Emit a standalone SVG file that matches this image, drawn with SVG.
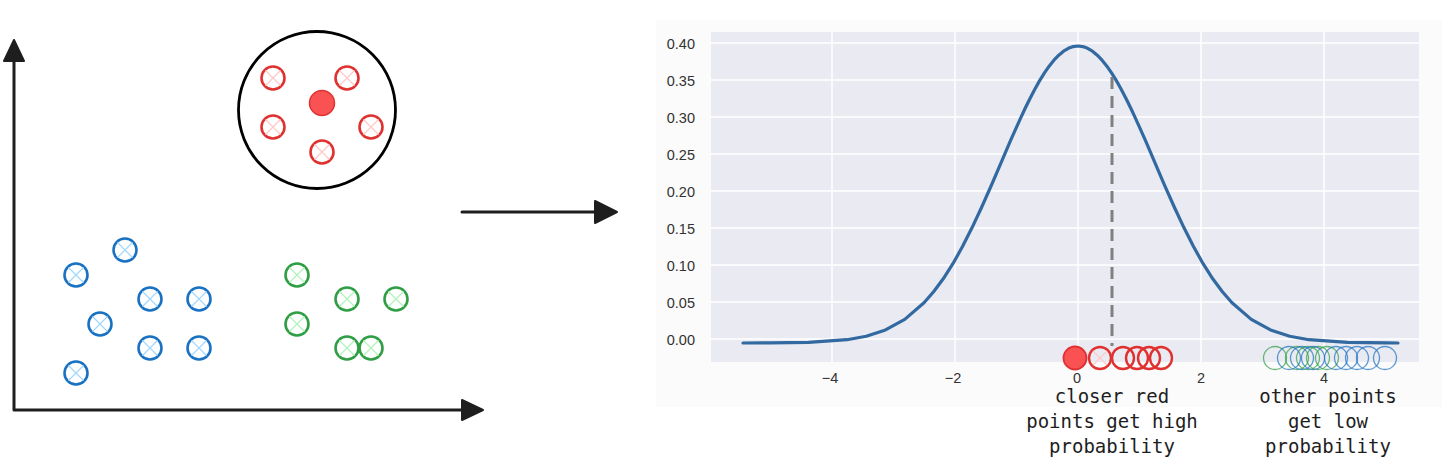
<svg xmlns="http://www.w3.org/2000/svg" width="1456" height="476" viewBox="0 0 1456 476">
<defs>
<style>
.ax{stroke:#1e1e1e;stroke-width:3;fill:none;stroke-linecap:round}
.head{fill:#1e1e1e;stroke:#1e1e1e;stroke-width:2;stroke-linejoin:round}
.grid{stroke:#ffffff;stroke-width:1.5}
.tick{font-family:"Liberation Sans",Arial,sans-serif;font-size:14.5px;fill:#333333}
.note{font-family:"DejaVu Sans Mono",monospace;font-size:19px;fill:#1e1e1e;text-anchor:middle}
.cr{fill:none;stroke:#e03131;stroke-width:2.4}
.cb{fill:none;stroke:#1971c2;stroke-width:1.3;stroke-opacity:0.7}
.cg{fill:none;stroke:#2f9e44;stroke-width:1.3;stroke-opacity:0.7}
</style>
<g id="xo-b">
<circle cx="0" cy="0" r="11.5" fill="none" stroke="#1971c2" stroke-width="2.6"/>
<path d="M-7.5,-7.5L7.5,7.5M7.5,-7.5L-7.5,7.5" stroke="#a5d8ff" stroke-width="1.3"/>
</g>
<g id="xo-g">
<circle cx="0" cy="0" r="11.5" fill="none" stroke="#2f9e44" stroke-width="2.6"/>
<path d="M-7.5,-7.5L7.5,7.5M7.5,-7.5L-7.5,7.5" stroke="#b2f2bb" stroke-width="1.3"/>
</g>
<g id="xo-r">
<circle cx="0" cy="0" r="11.5" fill="none" stroke="#e03131" stroke-width="2.6"/>
<path d="M-7.5,-7.5L7.5,7.5M7.5,-7.5L-7.5,7.5" stroke="#ffc9c9" stroke-width="1.3"/>
</g>
</defs>
<rect width="1456" height="476" fill="#ffffff"/>

<!-- left scatter plot -->
<g id="left-axes">
<path class="ax" d="M14,410V60M14,410H465"/>
<path class="head" d="M14,40L24,61L4,61Z"/>
<path class="head" d="M483,410L462,400L462,420Z"/>
</g>

<g id="neighborhood">
<circle cx="317" cy="110" r="78.5" fill="none" stroke="#000000" stroke-width="2.8"/>
</g>

<g id="red-points">
<use href="#xo-r" x="273" y="78"/>
<use href="#xo-r" x="347" y="78"/>
<use href="#xo-r" x="273" y="127"/>
<use href="#xo-r" x="371" y="127"/>
<use href="#xo-r" x="322" y="152"/>
</g>
<g id="query-point">
<circle cx="322" cy="103" r="12.5" fill="#fa5252" stroke="#e03131" stroke-width="1.5"/>
</g>

<g id="blue-points">
<use href="#xo-b" x="76" y="275"/>
<use href="#xo-b" x="125" y="250"/>
<use href="#xo-b" x="150" y="299"/>
<use href="#xo-b" x="199" y="299"/>
<use href="#xo-b" x="100" y="324"/>
<use href="#xo-b" x="150" y="348"/>
<use href="#xo-b" x="199" y="348"/>
<use href="#xo-b" x="76" y="373"/>
</g>

<g id="green-points">
<use href="#xo-g" x="297" y="275"/>
<use href="#xo-g" x="347" y="299"/>
<use href="#xo-g" x="396" y="299"/>
<use href="#xo-g" x="297" y="324"/>
<use href="#xo-g" x="347" y="348"/>
<use href="#xo-g" x="371" y="348"/>
</g>

<!-- connector -->
<g id="connectors">
<path class="ax" d="M462,212H600"/>
<path class="head" d="M617,212L595,201L595,223Z"/>
</g>

<!-- chart -->
<g id="chart">
<rect x="656" y="20" width="786" height="387" fill="#fbfbfb"/>
<rect x="711" y="32" width="708" height="330" fill="#eaeaf2"/>
<g class="grid">
<path d="M711,43H1419M711,80H1419M711,117H1419M711,154H1419M711,191H1419M711,228H1419M711,265H1419M711,302H1419M711,339H1419"/>
<path d="M832,32V362M955,32V362M1078,32V362M1201,32V362M1324,32V362"/>
</g>
<g class="tick" text-anchor="end">
<text x="695" y="49">0.40</text>
<text x="695" y="86">0.35</text>
<text x="695" y="123">0.30</text>
<text x="695" y="160">0.25</text>
<text x="695" y="197">0.20</text>
<text x="695" y="234">0.15</text>
<text x="695" y="271">0.10</text>
<text x="695" y="308">0.05</text>
<text x="695" y="345">0.00</text>
</g>
<g class="tick" text-anchor="middle">
<text x="830" y="383">−4</text>
<text x="953" y="383">−2</text>
<text x="1077" y="383">0</text>
<text x="1201" y="383">2</text>
<text x="1324" y="383">4</text>
</g>
<path id="gauss" fill="none" stroke="#3269a0" stroke-width="3.2" stroke-linecap="round" stroke-linejoin="round" d="M743,343L770,342.9L808.5,342.35L847,339.7L866.25,336.23L885.5,329.95L904.75,319.37L924,302.81L933.6,291.79L943.25,278.77L952.9,263.69L962.5,246.58L972.1,227.59L981.75,207.02L991.4,185.26L1001,162.86L1010.6,140.46L1020.25,118.81L1025.06,108.51L1029.88,98.69L1034.69,89.46L1039.5,80.9L1044.31,73.11L1049.13,66.17L1053.94,60.15L1058.75,55.14L1063.56,51.18L1068.38,48.31L1073.19,46.58L1078,46L1082.81,46.58L1087.63,48.31L1092.44,51.18L1097.25,55.14L1102.06,60.15L1106.88,66.17L1111.69,73.11L1116.5,80.9L1121.31,89.46L1126.13,98.69L1130.94,108.51L1135.75,118.81L1145.4,140.46L1155,162.86L1164.6,185.26L1174.25,207.02L1183.9,227.59L1193.5,246.58L1203.1,263.69L1212.75,278.77L1222.4,291.79L1232,302.81L1251.25,319.37L1270.5,329.95L1289.75,336.23L1309,339.7L1347.5,342.35L1386,342.9L1398,343"/>
<path d="M1112,77V346" stroke="#808080" stroke-width="3" stroke-dasharray="12,7" fill="none"/>
</g>

<g id="chart-points">
<g class="cg">
<circle cx="1275" cy="358" r="11.5"/>
<circle cx="1297" cy="358" r="11.5"/>
<circle cx="1308" cy="358" r="11.5"/>
<circle cx="1318" cy="358" r="11.5"/>
<circle cx="1327" cy="358" r="11.5"/>
</g>
<g class="cb">
<circle cx="1289" cy="358" r="11.5"/>
<circle cx="1302" cy="358" r="11.5"/>
<circle cx="1313" cy="358" r="11.5"/>
<circle cx="1336" cy="358" r="11.5"/>
<circle cx="1346" cy="358" r="11.5"/>
<circle cx="1357" cy="358" r="11.5"/>
<circle cx="1368" cy="358" r="11.5"/>
<circle cx="1385" cy="358" r="11.5"/>
</g>
<g class="cr">
<circle cx="1100" cy="358" r="11"/>
<circle cx="1123" cy="358" r="11"/>
<circle cx="1137" cy="358" r="11"/>
<circle cx="1149" cy="358" r="11"/>
<circle cx="1161" cy="358" r="11"/>
</g>
<path d="M1093,351L1107,365M1107,351L1093,365" stroke="#ffc9c9" stroke-width="1.2"/>
<circle cx="1075" cy="358" r="11.5" fill="#fa5252" stroke="#e03131" stroke-width="1.8"/>
</g>

<g id="label-close">
<text class="note" x="1112" y="403">closer red</text>
<text class="note" x="1112" y="428">points get high</text>
<text class="note" x="1112" y="453">probability</text>
</g>
<g id="label-far">
<text class="note" x="1328" y="403">other points</text>
<text class="note" x="1328" y="428">get low</text>
<text class="note" x="1328" y="453">probability</text>
</g>
</svg>
